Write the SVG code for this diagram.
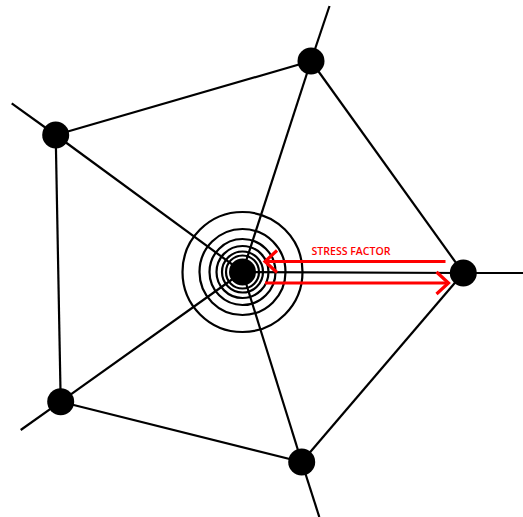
<svg xmlns="http://www.w3.org/2000/svg" width="523" height="517" viewBox="0 0 523 517">
<style>
.e{stroke:#000;stroke-width:2.2;fill:none}
.n{fill:#000}
.r{stroke:#000;stroke-width:2.2;fill:none}
.red{stroke:#f00;stroke-width:3.2;fill:none;stroke-linecap:butt}
.lbl{font-family:"Open Sans","Liberation Sans",sans-serif;font-size:11px;font-weight:600;fill:#f00}
</style>
<rect width="523" height="517" fill="#fff"/>
<g id="connectors">
<line class="e" x1="311" y1="61" x2="329.5" y2="6"/>
<line class="e" x1="55.7" y1="135" x2="11.7" y2="103.3"/>
<line class="e" x1="60.7" y1="401.7" x2="20.7" y2="430"/>
<line class="e" x1="301.7" y1="462" x2="319.3" y2="517"/>
<line class="e" x1="463.3" y1="273" x2="523" y2="273"/>
<line class="e" x1="311" y1="61" x2="55.7" y2="135"/>
<line class="e" x1="55.7" y1="135" x2="60.7" y2="401.7"/>
<line class="e" x1="60.7" y1="401.7" x2="301.7" y2="462"/>
<line class="e" x1="301.7" y1="462" x2="463.3" y2="273"/>
<line class="e" x1="463.3" y1="273" x2="311" y2="61"/>
<line class="e" x1="242.5" y1="272" x2="311" y2="61"/>
<line class="e" x1="242.5" y1="272" x2="55.7" y2="135"/>
<line class="e" x1="242.5" y1="272" x2="60.7" y2="401.7"/>
<line class="e" x1="242.5" y1="272" x2="301.7" y2="462"/>
<line class="e" x1="242.5" y1="272" x2="463.3" y2="273"/>
</g>
<g id="rings">
<circle class="r" cx="242.5" cy="272" r="60"/>
<circle class="r" cx="242.5" cy="272" r="43"/>
<circle class="r" cx="242.5" cy="272" r="33"/>
<circle class="r" cx="242.5" cy="272" r="26"/>
<circle class="r" cx="242.5" cy="272" r="20.5"/>
<circle class="r" cx="242.5" cy="272" r="16.5"/>
</g>
<g id="node-center"><circle class="n" cx="242.5" cy="272" r="13.5"/></g>
<g id="node-top"><circle class="n" cx="311" cy="61" r="13.5"/></g>
<g id="node-upper-left"><circle class="n" cx="55.7" cy="135" r="13.5"/></g>
<g id="node-lower-left"><circle class="n" cx="60.7" cy="401.7" r="13.5"/></g>
<g id="node-bottom"><circle class="n" cx="301.7" cy="462" r="13.5"/></g>
<g id="node-right"><circle class="n" cx="463.3" cy="273" r="13.5"/></g>
<g id="stress-factor">
<line class="red" x1="445.5" y1="261.5" x2="266" y2="261.5"/>
<polyline class="red" points="277,250.5 265,261.5 277,272.5"/>
<line class="red" x1="265" y1="283" x2="446" y2="283"/>
<polyline class="red" points="436.5,272 448.5,283 436.5,294"/>
<text class="lbl" x="311.5" y="254.5" textLength="79" lengthAdjust="spacingAndGlyphs">STRESS FACTOR</text>
</g>
</svg>
